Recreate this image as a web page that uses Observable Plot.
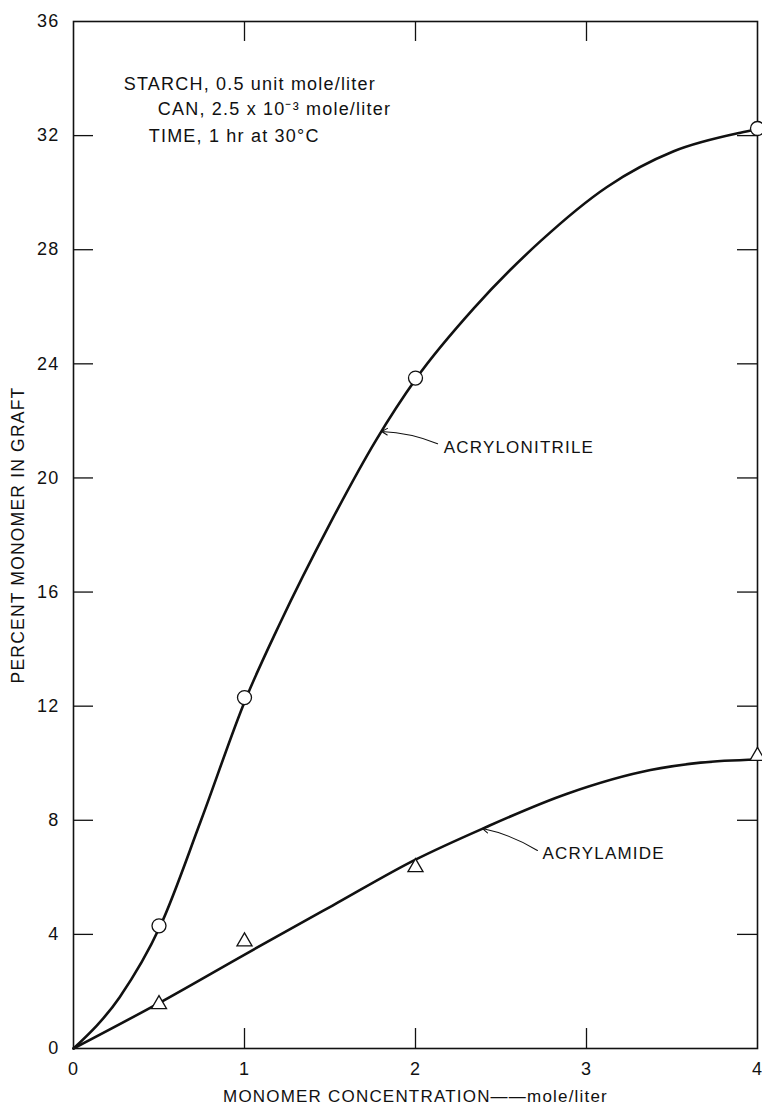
<!DOCTYPE html>
<html><head><meta charset="utf-8">
<script src="https://cdn.jsdelivr.net/npm/d3@7"></script>
<script src="https://cdn.jsdelivr.net/npm/@observablehq/plot@0.6"></script>
<style>
body{margin:0;background:#fff}
svg{display:block}
svg text{letter-spacing:1.2px}
</style>
</head><body><div id="chart"></div>
<script>
// measured points
const circleX = [0.5, 1, 2, 4];
const circleY = [4.3, 12.3, 23.5, 32.25];
const triX = [0.5, 1, 2, 4];
const triY = [1.55, 3.75, 6.35, 10.25];
// hand-drawn curves
const anCurveX = [0, 0.27, 0.508, 0.746, 1.009, 1.207, 1.5, 1.767, 2.006, 2.342, 2.731, 3.12, 3.51, 3.90, 4.0];
const anCurveY = [0, 1.8, 4.3, 8.0, 12.28, 14.9, 18.4, 21.3, 23.5, 25.95, 28.3, 30.2, 31.45, 32.1, 32.22];
const amCurveX = [0, 0.502, 1.009, 1.515, 2.0, 2.39, 2.887, 3.374, 3.667, 4.0];
const amCurveY = [0, 1.6, 3.32, 5.01, 6.62, 7.70, 8.93, 9.76, 10.02, 10.13];
// ticks
const xTicks = [0, 1, 2, 3, 4];
const yTicks = [0, 4, 8, 12, 16, 20, 24, 28, 32, 36];
const innerXTicks = [1, 2, 3];
const innerYTicks = [4, 8, 12, 16, 20, 24, 28, 32];
// texts
const xTitle = "MONOMER CONCENTRATION\u2014\u2014mole/liter";
const yTitle = "PERCENT MONOMER IN GRAFT";
const notes = ["STARCH, 0.5 unit mole/liter", "CAN, 2.5 x 10\u207B\u00B3 mole/liter", "TIME, 1 hr at 30\u00B0C"];
const noteX = [0.294, 0.493, 0.44];
const noteY = [33.8, 32.92, 31.97];
const seriesNames = ["ACRYLONITRILE", "ACRYLAMIDE"];
const labelX = [2.165, 2.743];
const labelY = [21.08, 6.85];
const arrowX1 = [2.129, 2.713], arrowY1 = [21.2, 6.94];
const arrowX2 = [1.802, 2.392], arrowY2 = [21.63, 7.71];

const idx = a => a.map((_, i) => i);
const font = "'Liberation Sans', Arial, sans-serif";

const chart = Plot.plot({
  width: 762,
  height: 1106,
  marginLeft: 73,
  marginRight: 5,
  marginTop: 21,
  marginBottom: 58,
  style: {fontFamily: font, background: "#fff", color: "#111"},
  x: {domain: [0, 4]},
  y: {domain: [0, 36]},
  marks: [
    Plot.frame({stroke: "#111", strokeWidth: 1.6}),
    Plot.ruleX(innerXTicks, {x: d => d, y1: 0, y2: 0.7, stroke: "#111", strokeWidth: 1.3}),
    Plot.ruleX(innerXTicks, {x: d => d, y1: 36, y2: 35.3, stroke: "#111", strokeWidth: 1.3}),
    Plot.ruleY(innerYTicks, {y: d => d, x1: 0, x2: 0.117, stroke: "#111", strokeWidth: 1.3}),
    Plot.ruleY(innerYTicks, {y: d => d, x1: 4, x2: 3.883, stroke: "#111", strokeWidth: 1.3}),
    Plot.axisX(xTicks, {tickSize: 0, tickPadding: 14, fontSize: 18, label: null, fill: "#111", tickFormat: d3.format("d")}),
    Plot.axisY(yTicks, {tickSize: 0, tickPadding: 14, fontSize: 18, label: null, fill: "#111", tickFormat: d3.format("d")}),
    Plot.text([xTitle], {frameAnchor: "bottom", dy: 53, fontSize: 17, fill: "#111", lineAnchor: "bottom"}),
    Plot.text([yTitle], {frameAnchor: "left", textAnchor: "middle", dx: -55, rotate: -90, fontSize: 17.5, fill: "#111"}),
    Plot.line(idx(anCurveX), {x: i => anCurveX[i], y: i => anCurveY[i], curve: "monotone-x", stroke: "#111", strokeWidth: 2.6}),
    Plot.line(idx(amCurveX), {x: i => amCurveX[i], y: i => amCurveY[i], curve: "monotone-x", stroke: "#111", strokeWidth: 2.6}),
    Plot.dot(idx(circleX), {x: i => circleX[i], y: i => circleY[i], r: 7, fill: "#fff", stroke: "#111", strokeWidth: 1.3}),
    Plot.dot(idx(triX), {x: i => triX[i], y: i => triY[i], symbol: "triangle", r: 5.6, fill: "#fff", stroke: "#111", strokeWidth: 1.3}),
    Plot.arrow(idx(arrowX1), {x1: i => arrowX1[i], y1: i => arrowY1[i], x2: i => arrowX2[i], y2: i => arrowY2[i], bend: -10, headLength: 9, stroke: "#111", strokeWidth: 1.1}),
    Plot.text(idx(seriesNames), {x: i => labelX[i], y: i => labelY[i], text: i => seriesNames[i], textAnchor: "start", fontSize: 17, fill: "#111"}),
    Plot.text(idx(notes), {x: i => noteX[i], y: i => noteY[i], text: i => notes[i], textAnchor: "start", fontSize: 18, fill: "#111"})
  ]
});
document.getElementById("chart").appendChild(chart);
</script>
</body></html>
